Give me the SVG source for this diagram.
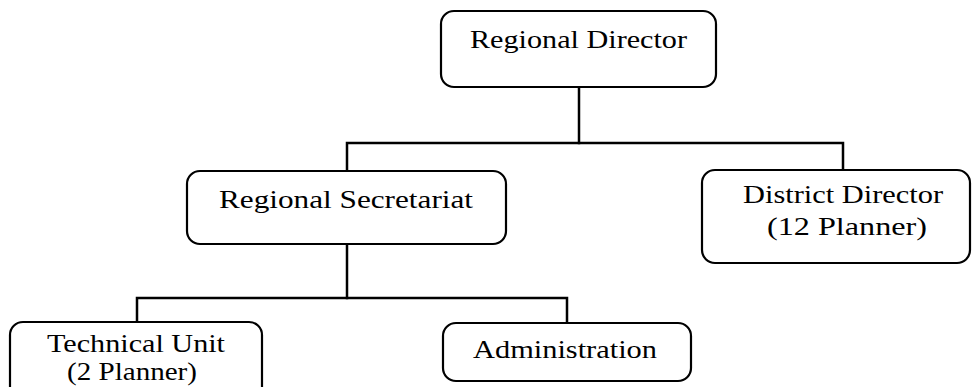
<svg xmlns="http://www.w3.org/2000/svg" width="976" height="387" viewBox="0 0 976 387">
  <style>
    .box { fill: #ffffff; stroke: #000000; stroke-width: 2.2; }
    .wire { fill: none; stroke: #000000; stroke-width: 2.5; stroke-linecap: square; }
    .label { font-family: "Liberation Serif", "DejaVu Serif", serif; font-size: 26px; fill: #000000; text-anchor: middle; }
  </style>
  <rect width="976" height="387" fill="#ffffff"/>

  <!-- reporting lines -->
  <g id="connectors">
    <path class="wire" d="M579,87 V143"/>
    <path class="wire" d="M347,171 V143 H843 V170"/>
    <path class="wire" d="M347,244 V298"/>
    <path class="wire" d="M137,322 V298 H567 V323"/>
  </g>

  <g id="regional-director">
    <rect class="box" x="441" y="11" width="275" height="76" rx="13"/>
    <text class="label" x="578.5" y="48" textLength="217" lengthAdjust="spacingAndGlyphs">Regional Director</text>
  </g>

  <g id="regional-secretariat">
    <rect class="box" x="187" y="171" width="319" height="73" rx="13"/>
    <text class="label" x="346" y="208" textLength="254" lengthAdjust="spacingAndGlyphs">Regional Secretariat</text>
  </g>

  <g id="district-director">
    <rect class="box" x="702" y="170" width="268" height="93" rx="13"/>
    <text class="label" x="843" y="203" textLength="200" lengthAdjust="spacingAndGlyphs">District Director</text>
    <text class="label" x="847" y="235" textLength="160" lengthAdjust="spacingAndGlyphs">(12 Planner)</text>
  </g>

  <g id="technical-unit">
    <rect class="box" x="10" y="322" width="252" height="90" rx="13"/>
    <text class="label" x="136" y="352" textLength="178" lengthAdjust="spacingAndGlyphs">Technical Unit</text>
    <text class="label" x="132" y="380" textLength="130" lengthAdjust="spacingAndGlyphs">(2 Planner)</text>
  </g>

  <g id="administration">
    <rect class="box" x="443" y="323" width="248" height="58" rx="13"/>
    <text class="label" x="565" y="358" textLength="184" lengthAdjust="spacingAndGlyphs">Administration</text>
  </g>
</svg>
